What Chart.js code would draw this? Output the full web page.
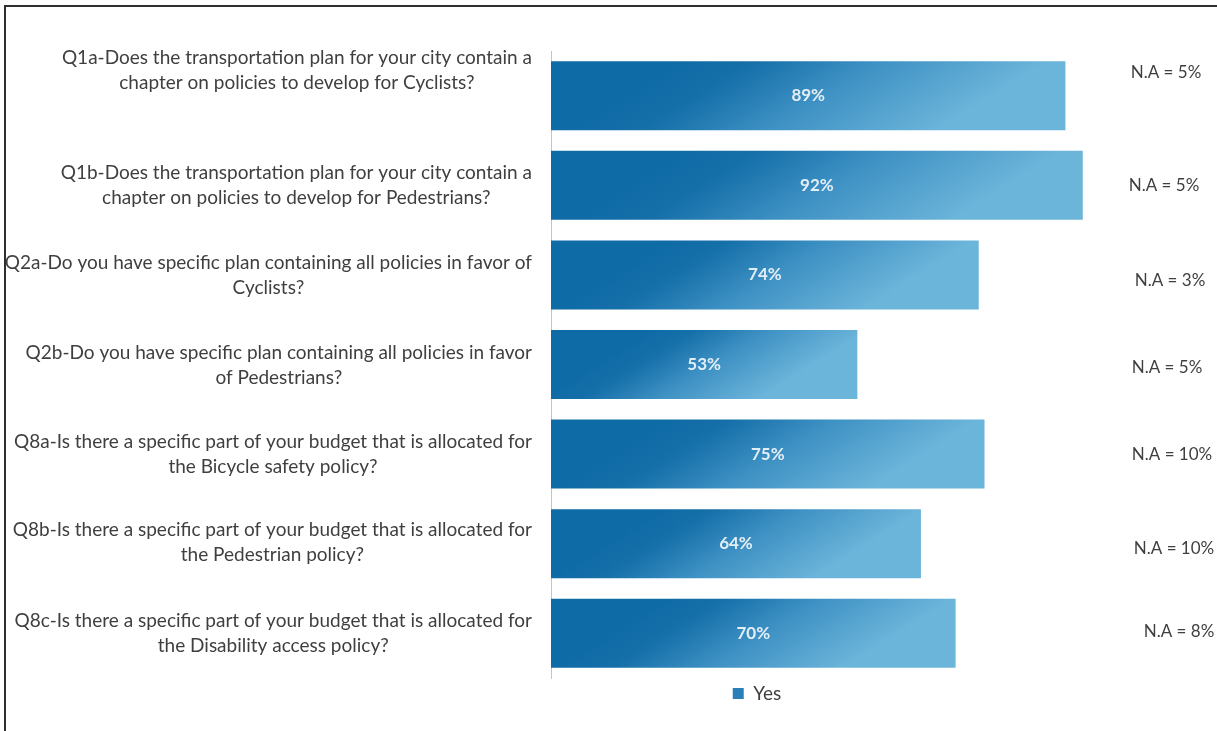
<!DOCTYPE html>
<html>
<head>
<meta charset="utf-8">
<script src="https://cdn.jsdelivr.net/npm/chart.js@4.4.1/dist/chart.umd.min.js"></script>
<style>
  html, body { margin: 0; padding: 0; background: #fff; }
  #wrap { position: relative; width: 1217px; height: 731px; overflow: hidden; }
  #frame { position: absolute; left: 4px; top: 5px; right: -10px; bottom: -10px;
           border-left: 2px solid #2e2e2e; border-top: 2px solid #2e2e2e; pointer-events: none; }
  canvas { position: absolute; left: 0; top: 0; }
</style>
</head>
<body>
<div id="wrap">
  <canvas id="survey"></canvas>
  <div id="frame"></div>
</div>
<script>
// survey questions (two lines each), share answering "Yes", share not answering
const questions = [
    ['Q1a-Does the transportation plan for your city contain a', 'chapter on policies to develop for Cyclists?'],
    ['Q1b-Does the transportation plan for your city contain a', 'chapter on policies to develop for Pedestrians?'],
    ['Q2a-Do you have specific plan containing all policies in favor of', 'Cyclists?'],
    ['Q2b-Do you have specific plan containing all policies in favor', 'of Pedestrians?'],
    ['Q8a-Is there a specific part of your budget that is allocated for', 'the Bicycle safety policy?'],
    ['Q8b-Is there a specific part of your budget that is allocated for', 'the Pedestrian policy?'],
    ['Q8c-Is there a specific part of your budget that is allocated for', 'the Disability access policy?']
];
const yesPct = [89, 92, 74, 53, 75, 64, 70];
const naPct = [5, 5, 3, 5, 10, 10, 8];

const TEXT = '#3f3f3f';
const BAR_PCT = 0.77;

// diagonal blue gradient, dark upper left -> light lower right
function barFill(c) {
    const chart = c.chart;
    if (!chart.chartArea || c.dataIndex === undefined) return '#2a7fb8';
    const xs = chart.scales.x, ys = chart.scales.y;
    const x0 = xs.getPixelForValue(0);
    const w = xs.getPixelForValue(c.raw) - x0;
    const yc = ys.getPixelForValue(c.dataIndex);
    const k = w * 0.2;
    const mx = x0 + w * 0.5;
    const g = chart.ctx.createLinearGradient(mx - k / 2, yc - 0.8 * k, mx + k / 2, yc + 0.8 * k);
    g.addColorStop(0, '#0f6ba6');
    g.addColorStop(0.2, '#156fa9');
    g.addColorStop(0.55, '#3f92c4');
    g.addColorStop(1, '#6bb4da');
    return g;
}

// question text, right block edge at the axis, lines centred inside the block
const questionLabels = {
    id: 'questionLabels',
    afterDraw(chart) {
        const ctx = chart.ctx;
        const ys = chart.scales.y;
        const right = chart.chartArea.left - 19;
        const nudge = [-25, 0, 0, 1, 0, -1, 0];
        ctx.save();
        ctx.font = '19px Lato';
        ctx.fillStyle = TEXT;
        ctx.textAlign = 'center';
        ctx.textBaseline = 'middle';
        questions.forEach((lines, i) => {
            const bw = Math.max(...lines.map(l => ctx.measureText(l).width));
            const cy = ys.getPixelForValue(i) + nudge[i];
            lines.forEach((l, j) => {
                ctx.fillText(l, right - bw / 2, cy + (j - (lines.length - 1) / 2) * 25);
            });
        });
        // N.A values to the right of the bars
        const naNudge = [-23, 0, 6, 3, 0, 5, -2];
        const naX = [37, 35, 41, 38, 43, 45, 50];
        ctx.font = '17px Lato';
        naPct.forEach((v, i) => {
            ctx.fillText('N.A = ' + v + '%', chart.chartArea.right + naX[i], ys.getPixelForValue(i) + naNudge[i]);
        });
        ctx.restore();
    },
    afterDatasetsDraw(chart) {
        // value labels centred in each bar
        const ctx = chart.ctx;
        const meta = chart.getDatasetMeta(0);
        ctx.save();
        ctx.font = 'bold 17px Lato';
        ctx.fillStyle = 'rgba(236,243,250,0.95)';
        ctx.textAlign = 'center';
        ctx.textBaseline = 'middle';
        meta.data.forEach((bar, i) => {
            ctx.fillText(yesPct[i] + '%', (bar.x + bar.base) / 2, bar.y);
        });
        ctx.restore();
    }
};

new Chart(document.getElementById('survey'), {
    type: 'bar',
    data: {
        labels: questions,
        datasets: [{
            label: 'Yes',
            data: yesPct,
            backgroundColor: barFill,
            borderWidth: 0,
            barPercentage: BAR_PCT,
            categoryPercentage: 1
        }]
    },
    options: {
        indexAxis: 'y',
        responsive: true,
        maintainAspectRatio: false,
        animation: false,
        layout: { padding: { left: 385, right: 88, top: 51, bottom: 18 } },
        scales: {
            x: { display: false, min: 0, max: 100 },
            y: {
                grid: { display: false },
                ticks: { display: false },
                border: { display: true, color: '#c4c4c4', width: 1 },
                afterFit: s => { s.width = 166; }
            }
        },
        plugins: {
            tooltip: { enabled: false },
            legend: {
                position: 'bottom',
                labels: {
                    boxWidth: 11,
                    boxHeight: 11,
                    padding: 6,
                    color: TEXT,
                    font: { family: 'Lato', size: 19 },
                    generateLabels: () => [{
                        text: 'Yes', fillStyle: '#2a7fb8', strokeStyle: '#2a7fb8',
                        lineWidth: 0, hidden: false, datasetIndex: 0, fontColor: TEXT
                    }]
                }
            }
        }
    },
    plugins: [questionLabels]
});
</script>
</body>
</html>
